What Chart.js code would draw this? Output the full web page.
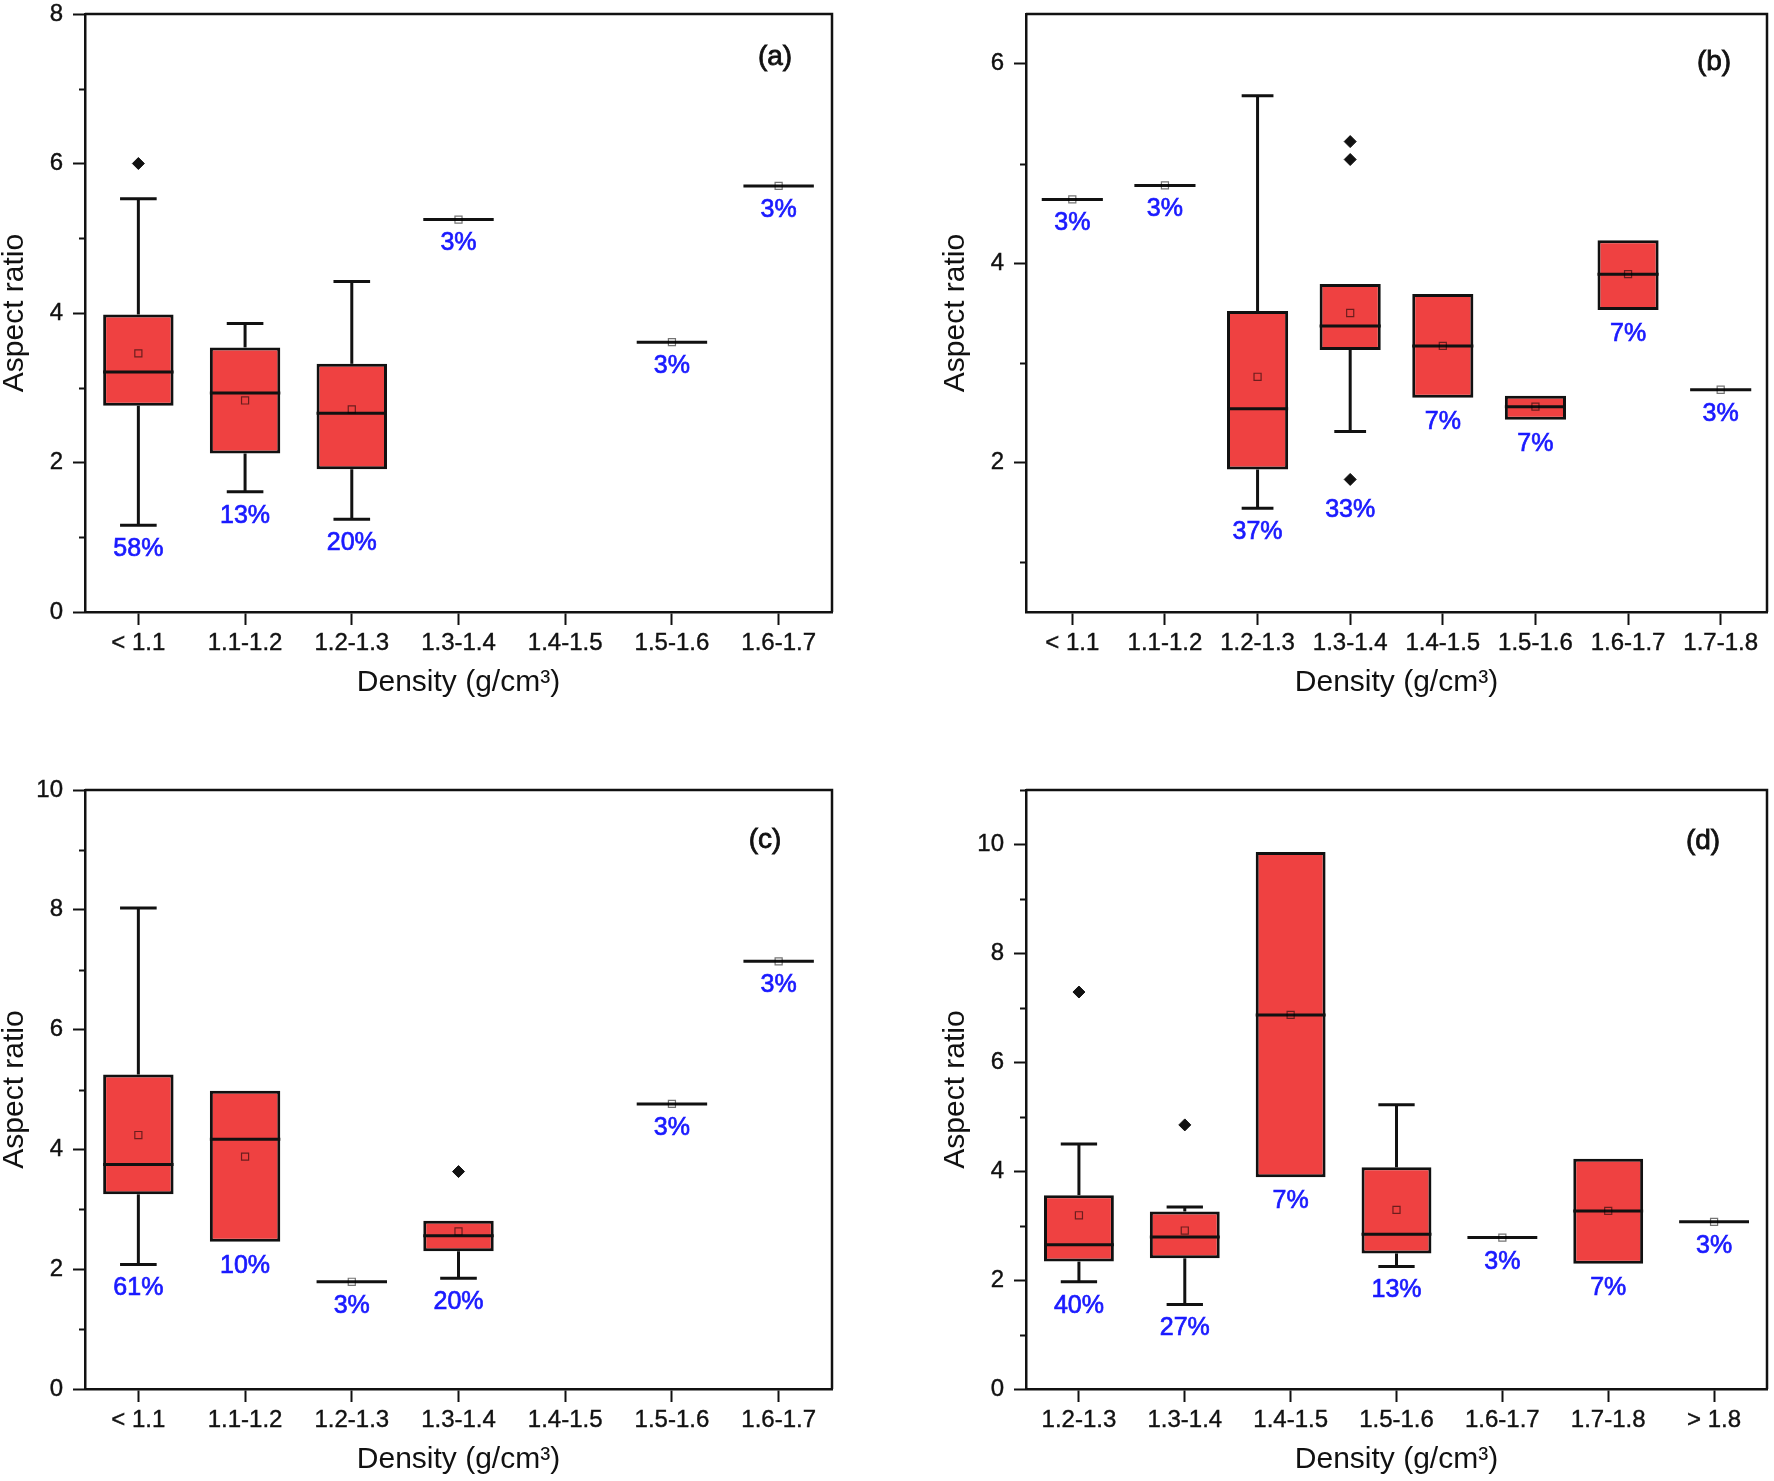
<!DOCTYPE html>
<html>
<head>
<meta charset="utf-8">
<title>Aspect ratio vs density</title>
<style>
  body { margin: 0; background: #fff; }
  .panel { position: absolute; width: 887px; height: 740px; }
</style>
</head>
<body>
<div class="panel" style="left:0;top:0"><canvas id="chartA" width="887" height="740"></canvas></div>
<div class="panel" style="left:887px;top:0"><canvas id="chartB" width="887" height="740"></canvas></div>
<div class="panel" style="left:0;top:740px"><canvas id="chartC" width="887" height="740"></canvas></div>
<div class="panel" style="left:887px;top:740px"><canvas id="chartD" width="887" height="740"></canvas></div>

<script src="https://cdn.jsdelivr.net/npm/chart.js"></script>
<script>
// ---- data ----
// panel (a)
const catsA = ["< 1.1", "1.1-1.2", "1.2-1.3", "1.3-1.4", "1.4-1.5", "1.5-1.6", "1.6-1.7"];
const minA  = [1.16, 1.61, 1.24, 5.25, null, 3.61, 5.70];
const q1A   = [2.76, 2.12, 1.91, 5.25, null, 3.61, 5.70];
const medA  = [3.21, 2.93, 2.66, 5.25, null, 3.61, 5.70];
const q3A   = [3.98, 3.54, 3.32, 5.25, null, 3.61, 5.70];
const maxA  = [5.53, 3.86, 4.42, 5.25, null, 3.61, 5.70];
const meanA = [3.46, 2.83, 2.71, 5.25, null, 3.61, 5.70];
const outA  = [[6.0], [], [], [], [], [], []];
const pctA  = ["58%", "13%", "20%", "3%", "", "3%", "3%"];

// panel (b)
const catsB = ["< 1.1", "1.1-1.2", "1.2-1.3", "1.3-1.4", "1.4-1.5", "1.5-1.6", "1.6-1.7", "1.7-1.8"];
const minB  = [4.64, 4.78, 1.54, 2.31, 2.65, 2.43, 3.53, 2.73];
const q1B   = [4.64, 4.78, 1.93, 3.13, 2.65, 2.43, 3.53, 2.73];
const medB  = [4.64, 4.78, 2.54, 3.37, 3.17, 2.56, 3.89, 2.73];
const q3B   = [4.64, 4.78, 3.52, 3.79, 3.69, 2.67, 4.23, 2.73];
const maxB  = [4.64, 4.78, 5.68, 3.79, 3.69, 2.67, 4.23, 2.73];
const meanB = [4.64, 4.78, 2.86, 3.50, 3.17, 2.56, 3.89, 2.73];
const outB  = [[], [], [], [5.22, 5.04, 1.83], [], [], [], []];
const pctB  = ["3%", "3%", "37%", "33%", "7%", "7%", "7%", "3%"];

// panel (c)
const catsC = ["< 1.1", "1.1-1.2", "1.2-1.3", "1.3-1.4", "1.4-1.5", "1.5-1.6", "1.6-1.7"];
const minC  = [2.08, 2.46, 1.79, 1.85, null, 4.76, 7.14];
const q1C   = [3.25, 2.46, 1.79, 2.30, null, 4.76, 7.14];
const medC  = [3.75, 4.17, 1.79, 2.56, null, 4.76, 7.14];
const q3C   = [5.25, 4.98, 1.79, 2.81, null, 4.76, 7.14];
const maxC  = [8.03, 4.98, 1.79, 2.81, null, 4.76, 7.14];
const meanC = [4.24, 3.88, 1.79, 2.63, null, 4.76, 7.14];
const outC  = [[], [], [], [3.63], [], [], []];
const pctC  = ["61%", "10%", "3%", "20%", "", "3%", "3%"];

// panel (d)
const catsD = ["1.2-1.3", "1.3-1.4", "1.4-1.5", "1.5-1.6", "1.6-1.7", "1.7-1.8", "> 1.8"];
const minD  = [1.97, 1.55, 3.89, 2.25, 2.78, 2.30, 3.07];
const q1D   = [2.34, 2.40, 3.89, 2.49, 2.78, 2.30, 3.07];
const medD  = [2.65, 2.79, 6.87, 2.84, 2.78, 3.27, 3.07];
const q3D   = [3.56, 3.26, 9.86, 4.07, 2.78, 4.23, 3.07];
const maxD  = [4.50, 3.34, 9.86, 5.22, 2.78, 4.23, 3.07];
const meanD = [3.19, 2.91, 6.87, 3.29, 2.78, 3.27, 3.07];
const outD  = [[7.29], [4.85], [], [], [], [], []];
const pctD  = ["40%", "27%", "7%", "13%", "3%", "7%", "3%"];

const FONT = "'Liberation Sans', Arial, sans-serif";
const BOX_RED = "#ef4141";
const INK = "#111";
const BLUE = "#1a1aff";

// whiskers, medians, minor ticks, frame, percent labels, panel tag
const boxExtras = {
  id: "boxExtras",
  afterDatasetDraw(chart, args, opts) {
    if (args.index !== 0) return;
    const { x, y } = chart.scales;
    const meta = chart.getDatasetMeta(0);
    const ctx = chart.ctx;
    ctx.save();
    ctx.strokeStyle = INK;
    ctx.lineWidth = 3;
    ctx.lineCap = "butt";
    const seg = (x1, y1, x2, y2) => {
      ctx.beginPath(); ctx.moveTo(x1, y1); ctx.lineTo(x2, y2); ctx.stroke();
    };
    opts.med.forEach((m, i) => {
      if (m == null) return;
      const cx = x.getPixelForValue(i);
      const half = meta.data[i].width / 2;
      const cap = half * 0.52;
      if (opts.max[i] > opts.q3[i]) {
        const yt = y.getPixelForValue(opts.max[i]);
        seg(cx, y.getPixelForValue(opts.q3[i]), cx, yt);
        seg(cx - cap, yt, cx + cap, yt);
      }
      if (opts.min[i] < opts.q1[i]) {
        const yb = y.getPixelForValue(opts.min[i]);
        seg(cx, y.getPixelForValue(opts.q1[i]), cx, yb);
        seg(cx - cap, yb, cx + cap, yb);
      }
      const ym = y.getPixelForValue(m);
      seg(cx - half, ym, cx + half, ym);
    });
    ctx.restore();
  },
  afterDraw(chart, args, opts) {
    const { x, y } = chart.scales;
    const area = chart.chartArea;
    const ctx = chart.ctx;
    ctx.save();
    // frame top/right
    ctx.strokeStyle = INK;
    ctx.lineWidth = 2.5;
    ctx.beginPath();
    ctx.moveTo(area.left, area.top);
    ctx.lineTo(area.right, area.top);
    ctx.lineTo(area.right, area.bottom);
    ctx.stroke();
    // minor ticks on y
    ctx.lineWidth = 2;
    for (let v = Math.ceil(y.min); v <= y.max; v++) {
      if (v % 2 === 0) continue;
      const py = Math.round(y.getPixelForValue(v)) + 0.5;
      ctx.beginPath();
      ctx.moveTo(area.left - 6, py);
      ctx.lineTo(area.left, py);
      ctx.stroke();
    }
    // percent labels under each group
    ctx.fillStyle = BLUE;
    ctx.strokeStyle = BLUE;
    ctx.lineWidth = 0.7;
    ctx.font = "25px " + FONT;
    ctx.textAlign = "center";
    ctx.textBaseline = "middle";
    opts.pct.forEach((t, i) => {
      if (!t) return;
      const outs = opts.out[i];
      const lowOut = outs.length ? Math.min(...outs) : Infinity;
      const low = Math.min(opts.min[i], lowOut);
      const gap = lowOut < opts.min[i] ? 31 : 24;
      const px = x.getPixelForValue(i), py = y.getPixelForValue(low) + gap;
      ctx.fillText(t, px, py);
      ctx.strokeText(t, px, py);
    });
    // panel tag
    ctx.fillStyle = INK;
    ctx.strokeStyle = INK;
    ctx.lineWidth = 0.8;
    ctx.font = "28px " + FONT;
    const tx = area.right - opts.tagDx, ty = area.top + opts.tagDy;
    ctx.fillText(opts.tag, tx, ty);
    ctx.strokeText(opts.tag, tx, ty);
    ctx.restore();
  }
};

function makePanel(id, p) {
  const boxes = p.q1.map((v, i) => (v == null ? null : [v, p.q3[i]]));
  const outliers = [];
  p.out.forEach((vals, i) => vals.forEach((v) => outliers.push({ x: p.cats[i], y: v })));

  new Chart(document.getElementById(id), {
    type: "bar",
    data: {
      labels: p.cats,
      datasets: [
        {
          data: boxes,
          backgroundColor: BOX_RED,
          borderColor: INK,
          borderWidth: 3,
          borderSkipped: false,
          categoryPercentage: 1,
          barPercentage: 0.66,
          order: 2
        },
        {
          type: "line",
          data: p.mean,
          showLine: false,
          pointStyle: "rect",
          pointRadius: 5,
          pointBackgroundColor: "rgba(0,0,0,0)",
          pointBorderColor: "rgba(0,0,0,0.55)",
          pointBorderWidth: 1.2,
          order: 1
        },
        {
          type: "line",
          data: outliers,
          showLine: false,
          pointStyle: "rectRot",
          pointRadius: 6,
          pointBackgroundColor: INK,
          pointBorderColor: INK,
          pointBorderWidth: 1,
          order: 0
        }
      ]
    },
    options: {
      responsive: false,
      animation: false,
      events: [],
      layout: { padding: p.pad },
      plugins: {
        legend: { display: false },
        tooltip: { enabled: false },
        boxExtras: {
          min: p.min, q1: p.q1, med: p.med, q3: p.q3, max: p.max,
          out: p.out, pct: p.pct, tag: p.tag, tagDx: p.tagDx, tagDy: p.tagDy
        }
      },
      scales: {
        x: {
          offset: true,
          grid: { offset: false, drawOnChartArea: false, drawTicks: true, tickLength: 13, tickWidth: 2, tickColor: INK },
          border: { display: true, color: INK, width: 2.5 },
          ticks: { color: INK, font: { family: FONT, size: 24 }, padding: 4, maxRotation: 0, autoSkip: false,
                   textStrokeColor: INK, textStrokeWidth: 0.4 },
          title: { display: true, text: "Density (g/cm³)", color: INK, font: { family: FONT, size: 30, lineHeight: 1 }, padding: 0 },
          afterFit(s) { s.height = 86; s.paddingLeft = 0; s.paddingRight = 0; }
        },
        y: {
          min: p.ymin,
          max: p.ymax,
          grid: { drawOnChartArea: false, drawTicks: true, tickLength: 12, tickWidth: 2, tickColor: INK },
          border: { display: true, color: INK, width: 2.5 },
          ticks: { color: INK, font: { family: FONT, size: 24 }, padding: 10,
                   textStrokeColor: INK, textStrokeWidth: 0.4 },
          title: { display: true, text: "Aspect ratio", color: INK, font: { family: FONT, size: 30, lineHeight: 1 }, padding: 0 },
          afterBuildTicks(s) {
            const t = [];
            for (let v = Math.ceil(s.min / 2) * 2; v <= s.max; v += 2) t.push({ value: v });
            s.ticks = t;
          },
          afterFit(s) { s.width = 85; s.paddingTop = 0; s.paddingBottom = 0; }
        }
      }
    },
    plugins: [boxExtras]
  });
}

makePanel("chartA", {
  cats: catsA, min: minA, q1: q1A, med: medA, q3: q3A, max: maxA, mean: meanA, out: outA, pct: pctA,
  ymin: 0, ymax: 8, tag: "(a)", tagDx: 57, tagDy: 43,
  pad: { left: 0, right: 55, top: 14, bottom: 42 }
});
makePanel("chartB", {
  cats: catsB, min: minB, q1: q1B, med: medB, q3: q3B, max: maxB, mean: meanB, out: outB, pct: pctB,
  ymin: 0.5, ymax: 6.5, tag: "(b)", tagDx: 53, tagDy: 48,
  pad: { left: 54, right: 2, top: 14, bottom: 42 }
});
makePanel("chartC", {
  cats: catsC, min: minC, q1: q1C, med: medC, q3: q3C, max: maxC, mean: meanC, out: outC, pct: pctC,
  ymin: 0, ymax: 10, tag: "(c)", tagDx: 67, tagDy: 50,
  pad: { left: 0, right: 55, top: 50, bottom: 5 }
});
makePanel("chartD", {
  cats: catsD, min: minD, q1: q1D, med: medD, q3: q3D, max: maxD, mean: meanD, out: outD, pct: pctD,
  ymin: 0, ymax: 11, tag: "(d)", tagDx: 64, tagDy: 51,
  pad: { left: 54, right: 2, top: 50, bottom: 5 }
});
</script>
</body>
</html>
